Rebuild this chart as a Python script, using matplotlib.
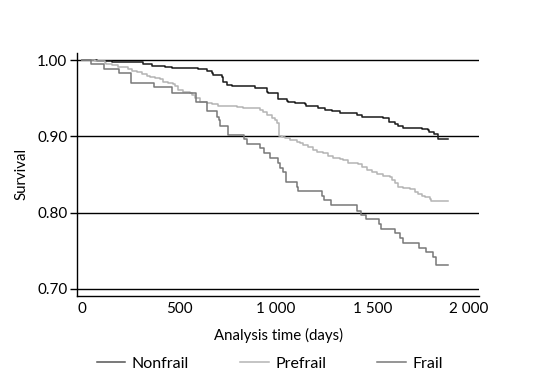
import matplotlib
matplotlib.use("Agg")
import matplotlib.pyplot as plt
from matplotlib.lines import Line2D

plt.rcParams['font.family'] = ['Lato', 'DejaVu Sans']

# Kaplan-Meier estimates (days, survival after step)
nonfrail_t = [0, 74, 152, 315, 358, 427, 462, 600, 643, 669, 678, 721, 729, 747, 772,
              894, 953, 962, 1013, 1057, 1065, 1100, 1152, 1157, 1220, 1255, 1290,
              1333, 1419, 1445, 1557, 1588, 1617, 1634, 1660, 1755, 1789, 1795, 1819,
              1838, 1894]
nonfrail_s = [1.0, 0.9991, 0.997, 0.9948, 0.9925, 0.9912, 0.9891, 0.9878, 0.986, 0.9826,
              0.9803, 0.978, 0.9716, 0.9672, 0.9659, 0.9629, 0.9584, 0.9571, 0.9485,
              0.9462, 0.9453, 0.9432, 0.9419, 0.9401, 0.9375, 0.9345, 0.9331, 0.9301,
              0.9279, 0.9257, 0.9236, 0.9191, 0.9157, 0.9135, 0.9112, 0.9092, 0.9082,
              0.9052, 0.9026, 0.896, 0.896]

prefrail_t = [0, 39, 65, 117, 120, 152, 186, 237, 255, 281, 307, 333, 350, 376, 401, 419,
              444, 470, 479, 496, 522, 557, 565, 583, 608, 643, 669, 703, 798, 832, 893,
              919, 936, 953, 979, 996, 1009, 1017, 1019, 1031, 1048, 1074, 1109, 1126,
              1143, 1169, 1195, 1212, 1246, 1272, 1298, 1333, 1350, 1376, 1427, 1445,
              1471, 1497, 1523, 1557, 1591, 1600, 1617, 1634, 1660, 1695, 1721, 1738,
              1755, 1772, 1798, 1803, 1894]
prefrail_s = [1.0, 0.9996, 0.9987, 0.9965, 0.9948, 0.9934, 0.9912, 0.9882, 0.9856, 0.9839,
              0.9816, 0.979, 0.9773, 0.976, 0.9747, 0.9716, 0.9695, 0.9681, 0.9659, 0.9607,
              0.9584, 0.9563, 0.9541, 0.9498, 0.9453, 0.9432, 0.9419, 0.9401, 0.9388,
              0.9375, 0.9367, 0.9345, 0.9322, 0.9279, 0.9236, 0.9213, 0.917, 0.9141, 0.901,
              0.8994, 0.8974, 0.8951, 0.8929, 0.8908, 0.8886, 0.8863, 0.882, 0.8798,
              0.8777, 0.8741, 0.8711, 0.8698, 0.8689, 0.8646, 0.8633, 0.8593, 0.8558,
              0.8536, 0.8506, 0.8483, 0.8462, 0.8427, 0.8384, 0.8339, 0.8318, 0.8305,
              0.8274, 0.8243, 0.8221, 0.82, 0.8174, 0.8152, 0.8152]

frail_t = [0, 44, 113, 191, 251, 372, 462, 590, 647, 695, 709, 714, 755, 838, 854, 921,
           940, 973, 1010, 1022, 1036, 1051, 1109, 1117, 1238, 1251, 1285, 1419, 1440,
           1467, 1536, 1546, 1619, 1643, 1660, 1743, 1778, 1815, 1829, 1894]
frail_s = [1.0, 0.9944, 0.9878, 0.9826, 0.9695, 0.9642, 0.9574, 0.9453, 0.9331, 0.9257,
           0.9213, 0.9141, 0.9013, 0.896, 0.8896, 0.8842, 0.8777, 0.8711, 0.8646, 0.8588,
           0.8528, 0.8405, 0.8339, 0.8279, 0.8217, 0.8165, 0.8093, 0.8024, 0.7968,
           0.7912, 0.7846, 0.7781, 0.7728, 0.7663, 0.7597, 0.7539, 0.7479, 0.7413,
           0.7309, 0.7309]

series_names = ["Nonfrail", "Prefrail", "Frail"]
x_ticks = [0, 500, 1000, 1500, 2000]
x_tick_labels = ["0", "500", "1 000", "1 500", "2 000"]
y_ticks = [0.70, 0.80, 0.90, 1.00]
y_tick_labels = ["0.70", "0.80", "0.90", "1.00"]

colors = ["#1a1a1a", "#b4b4b4", "#787878"]

fig = plt.figure(figsize=(5.43, 3.85), dpi=100)
ax = fig.add_axes([77/543, 89/385, (479-77)/543, (296-52.7)/385])

for y in y_ticks:
    ax.axhline(y, color="black", lw=1.0, zorder=1)

for t, s, c in zip([nonfrail_t, prefrail_t, frail_t],
                   [nonfrail_s, prefrail_s, frail_s], colors):
    ax.step(t, s, where="post", color=c, lw=1.1, zorder=3)

ax.set_xlim(-28, 2052)
ax.set_ylim(0.6906, 1.0096)
ax.set_xticks(x_ticks)
ax.set_xticklabels(x_tick_labels)
ax.set_yticks(y_ticks)
ax.set_yticklabels(y_tick_labels)
ax.tick_params(axis="x", length=0, pad=4, labelsize=11)
ax.tick_params(axis="y", length=5, width=1, pad=2, labelsize=11)
for side in ["top", "right"]:
    ax.spines[side].set_visible(False)
for side in ["left", "bottom"]:
    ax.spines[side].set_linewidth(1.0)
    ax.spines[side].set_color("black")

ax.set_xlabel("Analysis time (days)", fontsize=10.8, labelpad=9)
ax.set_ylabel("Survival", fontsize=10.8, labelpad=6)

handles = [Line2D([0], [0], color=c, lw=1.1) for c in ["#555555", "#b4b4b4", "#787878"]]
fig.legend(handles, series_names, loc="center", bbox_to_anchor=(0.497, 1 - 363.5/385),
           ncol=3, frameon=False, fontsize=11.5, handlelength=1.8, handletextpad=0.4,
           columnspacing=3.2)

fig.savefig("out.png", dpi=100)
